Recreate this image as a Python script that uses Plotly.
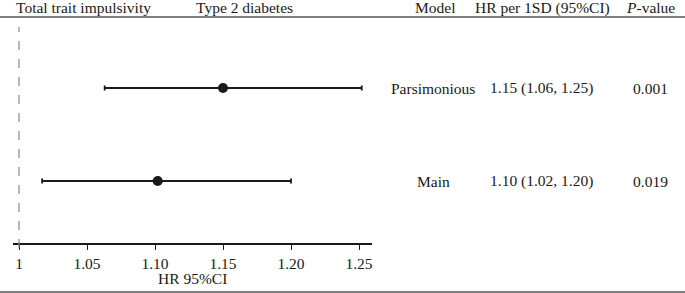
import plotly.graph_objects as go

# Data
models = ["Parsimonious", "Main"]
hr = [1.15, 1.102]
ci_low = [1.063, 1.017]
ci_high = [1.252, 1.200]
hr_text = ["1.15 (1.06, 1.25)", "1.10 (1.02, 1.20)"]
p_text = ["0.001", "0.019"]
row_pos = [2, 1]
tick_vals = [1.0, 1.05, 1.10, 1.15, 1.20, 1.25]
tick_text = ["1", "1.05", "1.10", "1.15", "1.20", "1.25"]

W, H = 685, 293
L, R, T, B = 13, 313, 16, 50
PW = W - L - R
PH = H - T - B

def px(xpix):
    return (xpix - L) / PW

def py(ypix):
    return 1 - (ypix - T) / PH

FONT = "Liberation Serif, Times New Roman, serif"
FS = 15.5
TXT = "#1a1a1a"

fig = go.Figure()
fig.add_trace(go.Scatter(
    x=hr, y=row_pos, mode="markers",
    marker=dict(size=10, color="#1a1a1a"),
    error_x=dict(type="data", symmetric=False,
                 array=[h - c for h, c in zip(ci_high, hr)],
                 arrayminus=[h - c for h, c in zip(hr, ci_low)],
                 color="#1a1a1a", thickness=1.8, width=2.5),
    showlegend=False, hoverinfo="skip",
))

fig.add_shape(type="line", x0=1, x1=1, y0=py(248), y1=py(27), xref="x", yref="paper",
              line=dict(color="#888888", width=1.2, dash="dash"))
# top & bottom rules
fig.add_shape(type="line", x0=px(0), x1=px(W), y0=py(17), y1=py(17), xref="paper", yref="paper",
              line=dict(color="#555555", width=1.3))
fig.add_shape(type="line", x0=px(0), x1=px(W), y0=py(292), y1=py(292), xref="paper", yref="paper",
              line=dict(color="#555555", width=1.3))

ann = []
def text(x, y, s, xanchor="center"):
    ann.append(dict(x=x, y=y, xref="paper", yref="paper", text=s, showarrow=False,
                    xanchor=xanchor, yanchor="middle", font=dict(family=FONT, size=FS, color=TXT)))

text(px(14), py(8), "Total trait impulsivity", "left")
text(px(194), py(8), "Type 2 diabetes", "left")
text(px(435), py(8), "Model")
text(px(542), py(8), "HR per 1SD (95%CI)")
text(px(650), py(8), "<i>P</i>-value")
text(px(192), py(278), "HR 95%CI")

for m, h, p, r in zip(models, hr_text, p_text, row_pos):
    for x, s in [(433, m), (541, h), (650, p)]:
        ann.append(dict(x=px(x), y=r, xref="paper", yref="y", text=s, showarrow=False,
                        xanchor="center", yanchor="middle",
                        font=dict(family=FONT, size=FS, color=TXT)))

fig.update_layout(
    width=W, height=H, margin=dict(l=L, r=R, t=T, b=B),
    plot_bgcolor="white", paper_bgcolor="white",
    annotations=ann,
    xaxis=dict(range=[1 - 6 * 0.05 / 68, 1 + 353 * 0.05 / 68], tickvals=tick_vals, ticktext=tick_text,
               showline=True, linecolor="#1a1a1a", linewidth=2, ticks="outside", ticklen=5,
               tickcolor="#1a1a1a", tickwidth=1, showgrid=False, zeroline=False,
               tickfont=dict(family=FONT, size=FS, color=TXT)),
    yaxis=dict(range=[(274 - 243) / 93, (274 - 16) / 93], visible=False, showgrid=False, zeroline=False),
)

fig.write_html("out.html", config={"displayModeBar": False},
               post_script="document.body.style.margin='0';document.body.style.padding='0';")
